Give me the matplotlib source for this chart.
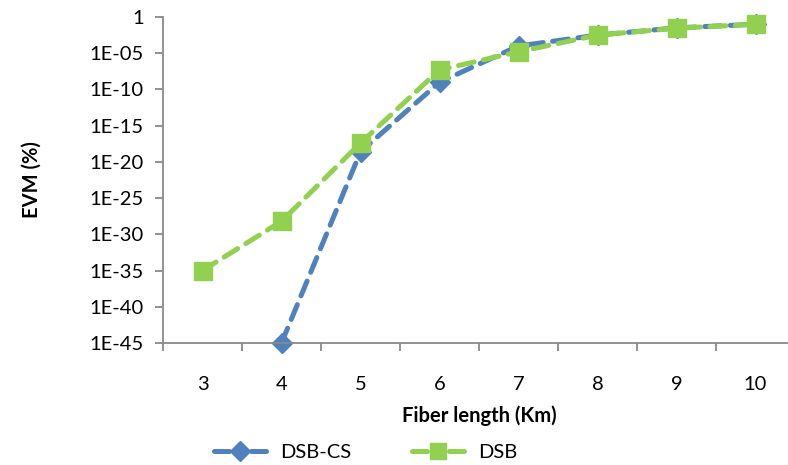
import matplotlib
matplotlib.use("Agg")
import matplotlib.pyplot as plt
from matplotlib.lines import Line2D
from matplotlib.ticker import FixedLocator, NullFormatter

plt.rcParams['font.family'] = ['Lato', 'DejaVu Sans']

fiber_km = [3, 4, 5, 6, 7, 8, 9, 10]
# EVM values as powers of ten (log10 of EVM)
log_evm_dsb_cs = [None, -45, -18.6, -9, -4, -2.5, -1.5, -1]
log_evm_dsb = [-35, -28.2, -17.4, -7.3, -4.8, -2.5, -1.55, -1]
series_names = ['DSB-CS', 'DSB']
y_ticks = [10.0 ** (-k) for k in range(0, 50, 5)]
y_tick_labels = ['1'] + ['1E-%02d' % k for k in range(5, 50, 5)]

blue = '#4F81BD'
green = '#92D050'
axis_gray = '#898989'
fs = 14.5

fig = plt.figure(figsize=(7.88, 4.65), dpi=100)
ax = fig.add_axes([163 / 788, 1 - 343 / 465, 632 / 788, (343 - 17) / 465])

xs_cs = [x for x, v in zip(fiber_km, log_evm_dsb_cs) if v is not None]
ys_cs = [10.0 ** v for v in log_evm_dsb_cs if v is not None]
ys_dsb = [10.0 ** v for v in log_evm_dsb]

line_kw = dict(linestyle=(0, (3.2, 1.9)), linewidth=3.6, dash_capstyle='round',
               clip_on=False)
ax.plot(xs_cs, ys_cs, color=blue, marker='D', markersize=10,
        markeredgecolor=blue, label=series_names[0], **line_kw)
ax.plot(fiber_km, ys_dsb, color=green, marker='s', markersize=13,
        markeredgecolor=green, label=series_names[1], **line_kw)

ax.set_yscale('log')
ax.set_ylim(1e-45, 1)
ax.set_xlim(2.5, 10.5)

ax.yaxis.set_major_locator(FixedLocator(y_ticks))
ax.yaxis.set_minor_locator(FixedLocator([]))
ax.set_yticklabels(y_tick_labels)

ax.set_xticks(fiber_km)
ax.set_xticklabels([str(v) for v in fiber_km])
ax.xaxis.set_minor_locator(FixedLocator([v + 0.5 for v in range(2, 11)]))
ax.xaxis.set_minor_formatter(NullFormatter())

ax.tick_params(axis='x', which='major', length=0, pad=24, labelsize=fs,
               colors='black')
ax.tick_params(axis='x', which='minor', length=6, width=1.3, color=axis_gray,
               direction='out')
ax.tick_params(axis='y', which='major', length=6, width=1.3, color=axis_gray,
               labelsize=fs, labelcolor='black', pad=8)

for side in ('top', 'right'):
    ax.spines[side].set_visible(False)
for side in ('left', 'bottom'):
    ax.spines[side].set_color(axis_gray)
    ax.spines[side].set_linewidth(1.3)

ax.set_xlabel('Fiber length (Km)', fontsize=fs, fontweight='bold', labelpad=9)
ax.set_ylabel('EVM (%)', fontsize=fs, fontweight='bold', labelpad=34)

# Legend handles: a dash on each side of the marker
leg_style = dict(linestyle=(0, (3.0, 4.4)), linewidth=3.6, dash_capstyle='round')
handles = [
    Line2D([], [], color=blue, marker='D', markersize=10, markeredgecolor=blue,
           **leg_style),
    Line2D([], [], color=green, marker='s', markersize=12, markeredgecolor=green,
           **leg_style),
]
fig.legend(handles, series_names, loc='center',
           bbox_to_anchor=(366 / 788, 1 - 452 / 465), ncol=2, frameon=False,
           fontsize=fs, handlelength=2.6, columnspacing=3.0, handletextpad=0.7)

fig.savefig('out.png', dpi=100)
